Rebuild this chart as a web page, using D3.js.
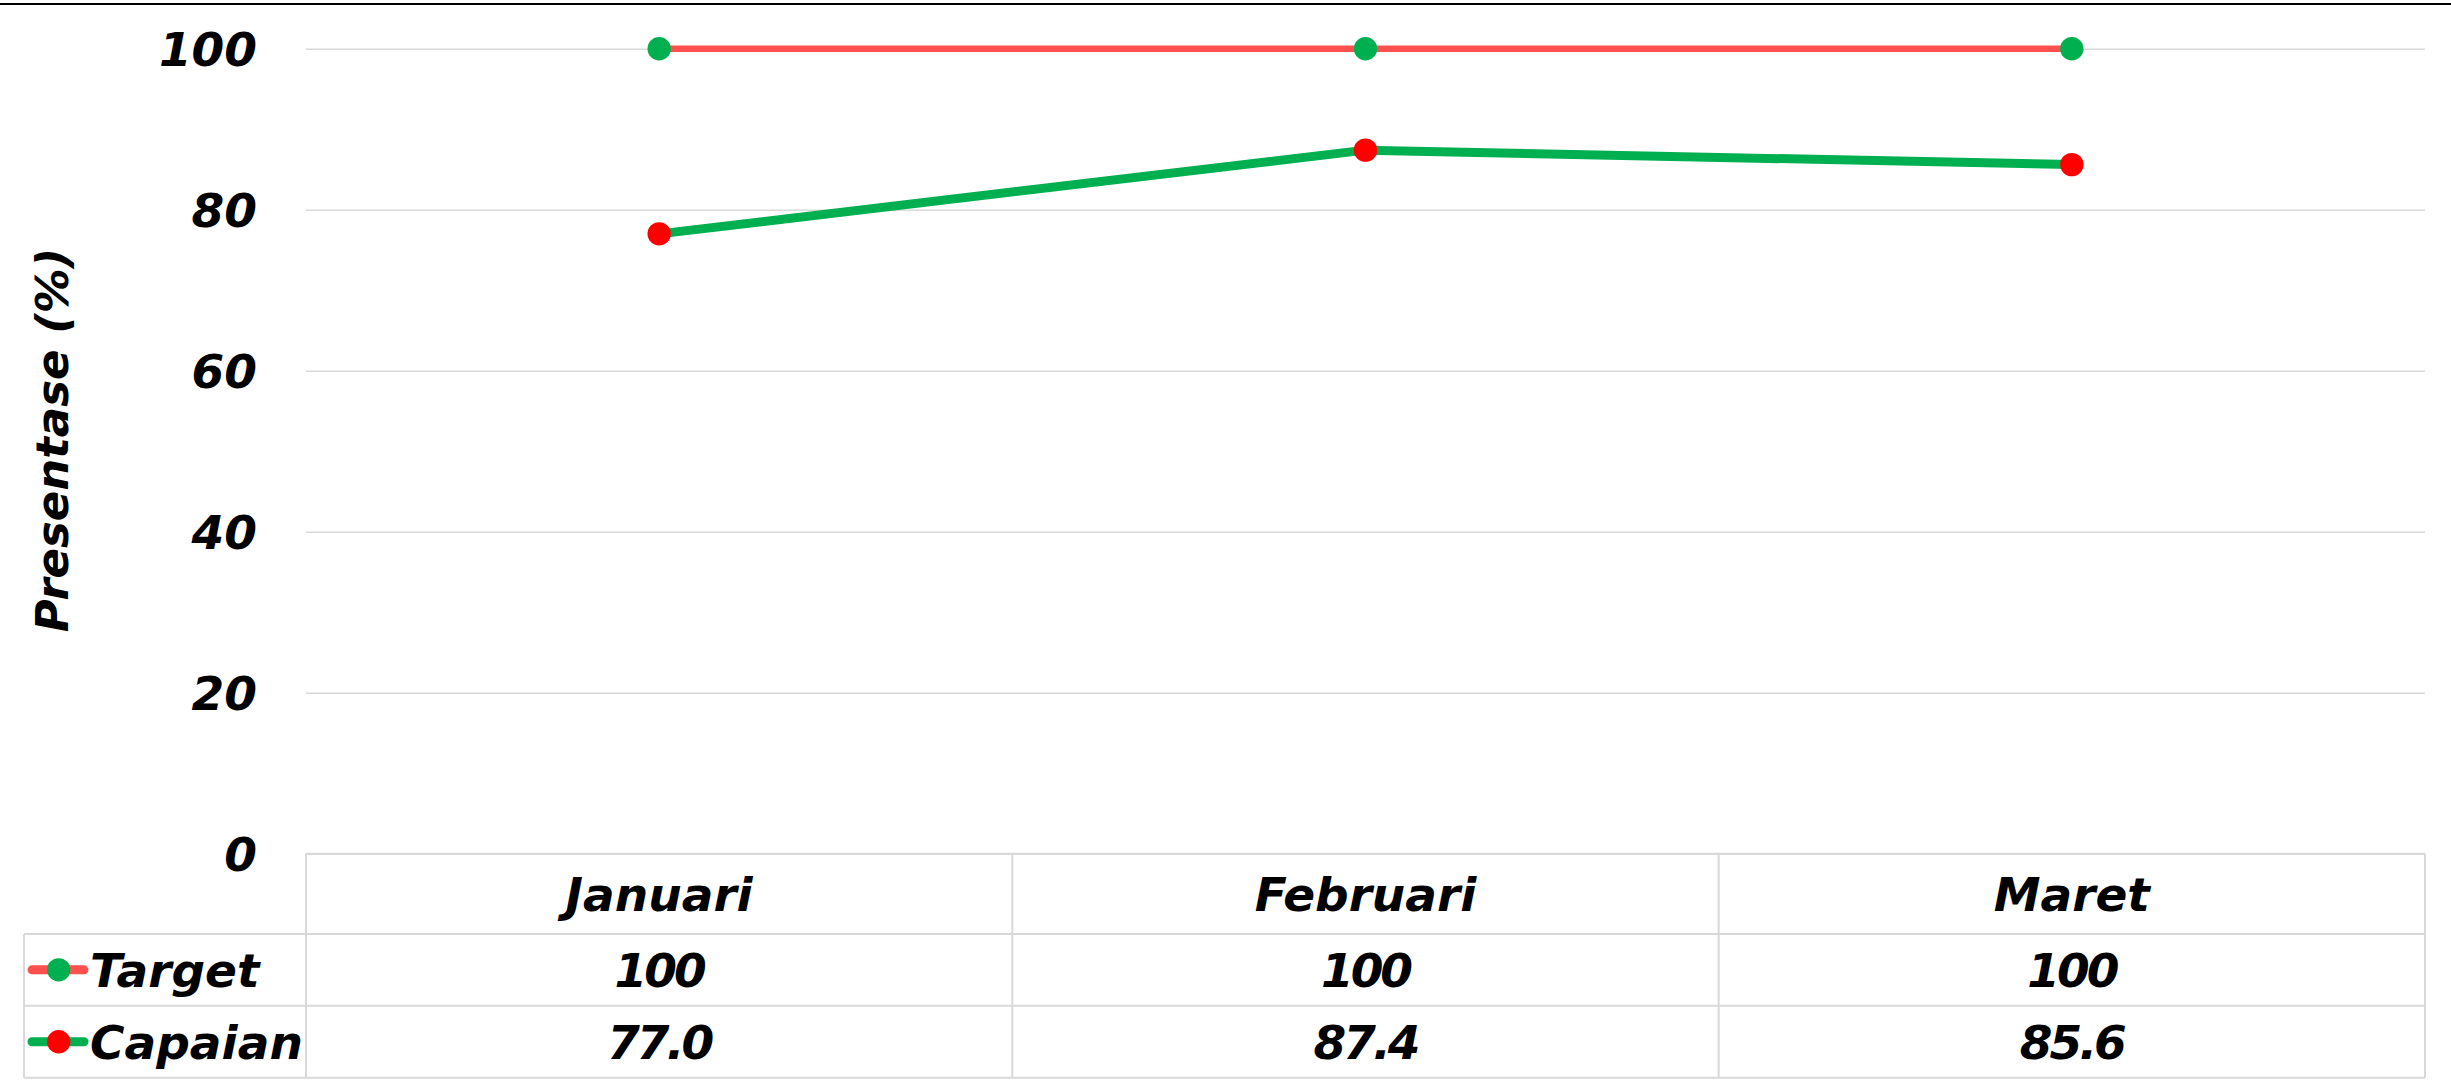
<!DOCTYPE html>
<html>
<head>
<meta charset="utf-8">
<script src="https://cdn.jsdelivr.net/npm/d3@7"></script>
<style>
  html, body { margin: 0; padding: 0; background: #ffffff; }
  svg { display: block; }
  text { font-family: "DejaVu Sans", sans-serif; font-weight: bold; font-style: italic; fill: #000; }
</style>
</head>
<body>
<svg id="chart" width="2451" height="1086"></svg>
<script>
// ---- data ----
const categories = ["Januari", "Februari", "Maret"];
const targetValues = [100, 100, 100];
const capaianValues = [77.0, 87.4, 85.6];
const targetLabels = ["100", "100", "100"];
const capaianLabels = ["77.0", "87.4", "85.6"];
const seriesNames = ["Target", "Capaian"];
const yTicks = [0, 20, 40, 60, 80, 100];
const yTitle = "Presentase (%)";

// ---- layout ----
const W = 2451, H = 1086;
const plotL = 306, plotR = 2425, plotT = 48.7, plotB = 853.7;
const rowLines = [853.7, 934, 1005.7, 1077.7];
const tableL = 24;
const fs = 47;
const gridColor = "#D9D9D9";
const targetLine = "#FF5050", targetMarker = "#00B050";
const capaianLine = "#00B050", capaianMarker = "#FF0000";

const svg = d3.select("#chart");

// top black rule
svg.append("line").attr("x1", 0).attr("x2", W).attr("y1", 4).attr("y2", 4)
  .attr("stroke", "#000").attr("stroke-width", 2);

const x = d3.scaleBand().domain(categories).range([plotL, plotR]).padding(0);
const y = d3.scaleLinear().domain([0, 100]).range([plotB, plotT]);
const cx = c => x(c) + x.bandwidth() / 2;

// y axis with gridlines
const yAxis = d3.axisLeft(y).tickValues(yTicks).tickSize(-(plotR - plotL)).tickPadding(49)
  .tickFormat(d3.format("d"));
const gy = svg.append("g").attr("transform", `translate(${plotL},0)`).call(yAxis);
gy.select(".domain").remove();
gy.selectAll(".tick line").attr("stroke", gridColor).attr("stroke-width", 1.6);
gy.selectAll(".tick text").attr("font-size", fs).attr("dy", "0.36em")
  .style("font-family", '"DejaVu Sans", sans-serif').style("font-weight", "bold").style("font-style", "italic")
  .attr("fill", "#000");

// y title
svg.append("text")
  .attr("transform", `translate(68,440) rotate(-90)`)
  .attr("text-anchor", "middle")
  .attr("font-size", 45)
  .text(yTitle);

// lines
const line = d3.line().x(d => cx(d.c)).y(d => y(d.v));
const tData = categories.map((c, i) => ({ c, v: targetValues[i] }));
const cData = categories.map((c, i) => ({ c, v: capaianValues[i] }));

svg.append("path").datum(tData).attr("d", line).attr("fill", "none")
  .attr("stroke", targetLine).attr("stroke-width", 6.5);
svg.append("path").datum(cData).attr("d", line).attr("fill", "none")
  .attr("stroke", capaianLine).attr("stroke-width", 9).attr("stroke-linejoin", "round");

svg.append("g").selectAll("circle").data(tData).join("circle")
  .attr("cx", d => cx(d.c)).attr("cy", d => y(d.v)).attr("r", 11.7).attr("fill", targetMarker);
svg.append("g").selectAll("circle").data(cData).join("circle")
  .attr("cx", d => cx(d.c)).attr("cy", d => y(d.v)).attr("r", 11.7).attr("fill", capaianMarker);

// ---- data table ----
const tg = svg.append("g");
const stroke = (sel) => sel.attr("stroke", gridColor).attr("stroke-width", 2).attr("fill", "none");
// horizontal lines
tg.append("line").attr("x1", plotL).attr("x2", plotR).attr("y1", rowLines[0]).attr("y2", rowLines[0]).call(stroke);
rowLines.slice(1).forEach(yy => {
  tg.append("line").attr("x1", tableL).attr("x2", plotR).attr("y1", yy).attr("y2", yy).call(stroke);
});
// vertical lines
tg.append("line").attr("x1", tableL).attr("x2", tableL).attr("y1", rowLines[1]).attr("y2", rowLines[3]).call(stroke);
const colEdges = categories.map(c => x(c)).concat([plotR]);
colEdges.forEach(xx => {
  tg.append("line").attr("x1", xx).attr("x2", xx).attr("y1", rowLines[0]).attr("y2", rowLines[3]).call(stroke);
});

const rowMid = i => (rowLines[i] + rowLines[i + 1]) / 2;
const base = i => rowMid(i) + 0.36 * fs;

// header
tg.selectAll("text.hdr").data(categories).join("text").attr("class", "hdr")
  .attr("x", d => cx(d)).attr("y", base(0)).attr("text-anchor", "middle").attr("font-size", fs).text(d => d);
// values
tg.selectAll("text.tv").data(categories).join("text").attr("class", "tv")
  .attr("x", d => cx(d)).attr("y", base(1)).attr("text-anchor", "middle").attr("font-size", fs)
  .attr("letter-spacing", -3).text((d, i) => targetLabels[i]);
tg.selectAll("text.cv").data(categories).join("text").attr("class", "cv")
  .attr("x", d => cx(d)).attr("y", base(2)).attr("text-anchor", "middle").attr("font-size", fs)
  .attr("letter-spacing", -3).text((d, i) => capaianLabels[i]);

// legend keys
const keys = [
  { name: seriesNames[0], line: targetLine, marker: targetMarker, row: 1 },
  { name: seriesNames[1], line: capaianLine, marker: capaianMarker, row: 2 }
];
keys.forEach(k => {
  const ym = rowMid(k.row);
  tg.append("line").attr("x1", 32).attr("x2", 84).attr("y1", ym).attr("y2", ym)
    .attr("stroke", k.line).attr("stroke-width", 9).attr("stroke-linecap", "round");
  tg.append("circle").attr("cx", 58.7).attr("cy", ym).attr("r", 11.7).attr("fill", k.marker);
  tg.append("text").attr("x", 90).attr("y", base(k.row)).attr("font-size", fs).text(k.name);
});
</script>
</body>
</html>
